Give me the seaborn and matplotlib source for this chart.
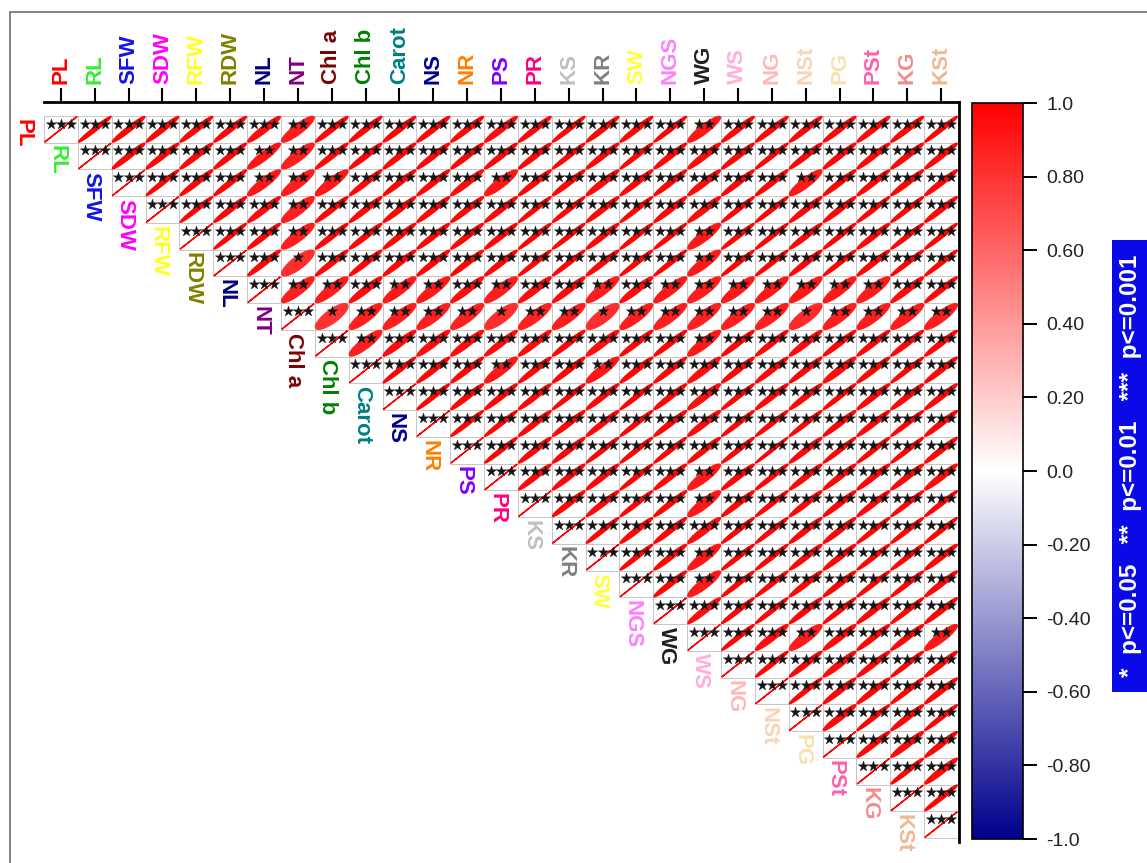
import numpy as np
import pandas as pd
import matplotlib
matplotlib.use("Agg")
import matplotlib.pyplot as plt
import seaborn as sns
from matplotlib.colors import LinearSegmentedColormap, ListedColormap, Normalize
from matplotlib.patches import Polygon, Rectangle
from matplotlib.cm import ScalarMappable

# ---- traits and their label colours ----
traits = ["PL", "RL", "SFW", "SDW", "RFW", "RDW", "NL", "NT", "Chl a", "Chl b",
          "Carot", "NS", "NR", "PS", "PR", "KS", "KR", "SW", "NGS", "WG",
          "WS", "NG", "NSt", "PG", "PSt", "KG", "KSt"]
trait_colors = ["#FF0000", "#33EE33", "#1414E6", "#FF00FF", "#FFFF22", "#808000",
                "#00007F", "#800080", "#800000", "#008000", "#008080", "#000090",
                "#FF8000", "#8000FF", "#FF0080", "#C0C0C0", "#808080", "#FFFF40",
                "#FF80FF", "#202020", "#FFB0D8", "#FFB8B8", "#F8D4B8", "#F8E0B0",
                "#FF60B0", "#F08C8C", "#F0B890"]

# ---- Pearson r, upper triangle, one list per row (columns to the right of the diagonal) ----
r_PL = [0.98, 0.97, 0.97, 0.97, 0.97, 0.95, 0.89, 0.97, 0.97, 0.97, 0.97, 0.97, 0.96,
        0.97, 0.98, 0.97, 0.97, 0.98, 0.91, 0.97, 0.97, 0.97, 0.97, 0.97, 0.97, 0.98]
r_RL = [0.97, 0.97, 0.97, 0.97, 0.92, 0.88, 0.97, 0.97, 0.97, 0.97, 0.97, 0.97, 0.97,
        0.98, 0.97, 0.98, 0.97, 0.96, 0.97, 0.98, 0.97, 0.97, 0.97, 0.97, 0.97]
r_SFW = [0.98, 0.97, 0.97, 0.91, 0.89, 0.90, 0.97, 0.97, 0.97, 0.96, 0.90, 0.97, 0.97,
         0.96, 0.97, 0.97, 0.96, 0.97, 0.97, 0.90, 0.97, 0.97, 0.97, 0.97]
r_SDW = [0.98, 0.97, 0.96, 0.88, 0.97, 0.97, 0.97, 0.97, 0.97, 0.97, 0.98, 0.98, 0.97,
         0.98, 0.97, 0.96, 0.98, 0.98, 0.97, 0.97, 0.98, 0.98, 0.97]
r_RFW = [0.98, 0.97, 0.88, 0.97, 0.97, 0.97, 0.97, 0.97, 0.97, 0.98, 0.98, 0.97, 0.98,
         0.98, 0.90, 0.98, 0.98, 0.97, 0.98, 0.97, 0.98, 0.98]
r_RDW = [0.97, 0.82, 0.97, 0.97, 0.97, 0.97, 0.97, 0.97, 0.98, 0.98, 0.97, 0.98, 0.98,
         0.90, 0.98, 0.98, 0.97, 0.98, 0.97, 0.98, 0.98]
r_NL = [0.88, 0.89, 0.95, 0.90, 0.90, 0.95, 0.88, 0.95, 0.96, 0.89, 0.95, 0.90, 0.88,
        0.90, 0.91, 0.90, 0.90, 0.89, 0.96, 0.97]
r_NT = [0.80, 0.87, 0.88, 0.88, 0.87, 0.82, 0.87, 0.88, 0.82, 0.88, 0.88, 0.87, 0.88,
        0.88, 0.83, 0.88, 0.88, 0.89, 0.88]
r_Chla = [0.88, 0.95, 0.95, 0.95, 0.96, 0.96, 0.97, 0.95, 0.97, 0.97, 0.90, 0.97, 0.97,
          0.96, 0.97, 0.97, 0.97, 0.97]
r_Chlb = [0.98, 0.97, 0.97, 0.91, 0.97, 0.97, 0.91, 0.97, 0.97, 0.95, 0.97, 0.97, 0.97,
          0.95, 0.97, 0.98, 0.97]
r_Carot = [0.98, 0.97, 0.97, 0.97, 0.98, 0.97, 0.98, 0.97, 0.95, 0.98, 0.97, 0.97, 0.98,
           0.97, 0.97, 0.97]
r_NS = [0.98, 0.98, 0.97, 0.97, 0.97, 0.98, 0.97, 0.96, 0.98, 0.98, 0.98, 0.97, 0.97,
        0.98, 0.97]
r_NR = [0.98, 0.97, 0.97, 0.98, 0.98, 0.98, 0.97, 0.98, 0.99, 0.97, 0.98, 0.98, 0.98, 0.97]
r_PS = [0.97, 0.97, 0.97, 0.98, 0.97, 0.90, 0.97, 0.98, 0.97, 0.97, 0.97, 0.97, 0.96]
r_PR = [0.97, 0.97, 0.98, 0.97, 0.90, 0.97, 0.98, 0.97, 0.97, 0.97, 0.98, 0.98]
r_KS = [0.98, 0.97, 0.97, 0.95, 0.98, 0.98, 0.97, 0.97, 0.98, 0.98, 0.98]
r_KR = [0.98, 0.97, 0.91, 0.98, 0.98, 0.97, 0.97, 0.98, 0.98, 0.97]
r_SW = [0.97, 0.90, 0.98, 0.98, 0.97, 0.97, 0.98, 0.98, 0.97]
r_NGS = [0.96, 0.98, 0.98, 0.97, 0.98, 0.97, 0.98, 0.97]
r_WG = [0.98, 0.95, 0.89, 0.96, 0.97, 0.97, 0.91]
r_WS = [0.98, 0.97, 0.96, 0.97, 0.98, 0.97]
r_NG = [0.98, 0.97, 0.97, 0.98, 0.97]
r_NSt = [0.96, 0.98, 0.97, 0.98]
r_PG = [0.97, 0.96, 0.97]
r_PSt = [0.98, 0.96]
r_KG = [0.98]

corr_rows = [r_PL, r_RL, r_SFW, r_SDW, r_RFW, r_RDW, r_NL, r_NT, r_Chla, r_Chlb,
             r_Carot, r_NS, r_NR, r_PS, r_PR, r_KS, r_KR, r_SW, r_NGS, r_WG,
             r_WS, r_NG, r_NSt, r_PG, r_PSt, r_KG]

# ---- significance: every pair is p<=0.001 except these (row, column) cells ----
p01_cells = [(0, 7), (0, 19), (1, 6), (1, 7), (2, 6), (2, 7), (2, 8), (2, 13), (2, 22),
             (3, 7), (4, 7), (4, 19), (5, 19), (6, 7), (6, 8), (6, 10), (6, 11), (6, 13),
             (6, 16), (6, 18), (6, 19), (6, 20), (6, 21), (6, 22), (6, 23), (6, 24),
             (7, 9), (7, 10), (7, 11), (7, 12), (7, 14), (7, 15), (7, 17), (7, 18),
             (7, 19), (7, 20), (7, 21), (7, 23), (7, 24), (7, 25), (7, 26), (8, 9),
             (8, 19), (9, 13), (9, 16), (13, 19), (14, 19), (16, 19), (17, 19),
             (19, 22), (19, 26)]
p05_cells = [(5, 7), (7, 8), (7, 13), (7, 16), (7, 22)]

cbar_ticks = [1.0, 0.8, 0.6, 0.4, 0.2, 0.0, -0.2, -0.4, -0.6, -0.8, -1.0]
cbar_labels = ["1.0", "0.80", "0.60", "0.40", "0.20", "0.0",
               "-0.20", "-0.40", "-0.60", "-0.80", "-1.0"]
sig_note = "*  p<=0.05   **  p<=0.01   ***  p<=0.001"

# ---- assemble the full symmetric matrix ----
n = len(traits)
corr = np.eye(n)
for i, row in enumerate(corr_rows):
    for k, v in enumerate(row):
        j = i + 1 + k
        corr[i, j] = corr[j, i] = v
stars = np.full((n, n), 3, dtype=int)
for (i, j) in p01_cells:
    stars[i, j] = 2
for (i, j) in p05_cells:
    stars[i, j] = 1

# ---- style ----
sns.set_theme(style="white")
plt.rcParams["font.family"] = ["Liberation Sans", "DejaVu Sans"]

cmap = LinearSegmentedColormap.from_list(
    "blue_white_red", [(0.0, "#00008C"), (0.5, "#FFFFFF"), (1.0, "#FF0000")])
norm = Normalize(vmin=-1, vmax=1)

W, H = 1147, 863
fig = plt.figure(figsize=(W / 100, H / 100), dpi=100)


def fx(px):
    return px / W


def fy(py):
    return 1 - py / H


# outer frame
fig.patches.append(Rectangle((fx(10), fy(880)), fx(1160) - fx(10), fy(12) - fy(880),
                             transform=fig.transFigure, fill=False,
                             edgecolor="#6E6E6E", lw=1.2, clip_on=False))

ax = fig.add_axes([fx(44), fy(842), fx(959) - fx(44), fy(102) - fy(842)])

df = pd.DataFrame(corr, index=traits, columns=traits)
lower = np.tril(np.ones_like(corr, dtype=bool), k=-1)
sns.heatmap(df, mask=lower, cmap=ListedColormap(["white"]), cbar=False,
            linewidths=0.6, linecolor="#C8C8C8", ax=ax,
            xticklabels=True, yticklabels=False)
# keep cell borders only on the upper triangle
mesh = ax.collections[0]
edge = np.where(lower.ravel()[:, None], [0, 0, 0, 0], [0.78, 0.78, 0.78, 1.0])
mesh.set_edgecolor(edge)

# ellipses: shape of the 2x2 correlation matrix, drawn inside each cell
t = np.linspace(0, 2 * np.pi, 120)
scale = 0.96
star_x, star_y = [], []
offsets = {1: [0.0], 2: [-0.15, 0.15], 3: [-0.30, 0.0, 0.30]}
for i in range(n):
    for j in range(i, n):
        r = corr[i, j]
        d = np.arccos(np.clip(r, -1, 1))
        ex = np.cos(t + d / 2)
        ey = np.cos(t - d / 2)
        pts = np.column_stack([j + 0.5 + 0.5 * scale * ex, i + 0.5 - 0.5 * scale * ey])
        col = cmap(norm(r))
        ax.add_patch(Polygon(pts, closed=True, facecolor=col, edgecolor=col,
                             lw=1.0, zorder=3))
        for dx in offsets[stars[i, j]]:
            star_x.append(j + 0.5 + dx)
            star_y.append(i + 0.29)

sns.scatterplot(x=star_x, y=star_y, marker="*", s=60, color="#151515",
                edgecolor="#151515", linewidth=0.3, ax=ax, zorder=5, legend=False)

ax.set_xlim(0, n + 0.03)
ax.set_ylim(n + 0.15, -0.52)
ax.set_xlabel("")
ax.set_ylabel("")

# top axis with coloured trait names
ax.xaxis.tick_top()
ax.set_xticks(np.arange(n) + 0.5)
ax.set_xticklabels(traits, rotation=90, fontsize=16, fontweight="bold")
for lab, c in zip(ax.get_xticklabels(), trait_colors):
    lab.set_color(c)
ax.tick_params(axis="x", which="both", top=True, bottom=False, direction="out",
               length=10, width=1.5, color="black", pad=3,
               labeltop=True, labelbottom=False)
ax.set_yticks([])
for side in ["left", "bottom"]:
    ax.spines[side].set_visible(False)
for side in ["top", "right"]:
    ax.spines[side].set_visible(True)
    ax.spines[side].set_color("black")
    ax.spines[side].set_linewidth(2)

# diagonal trait names
for i, (name, c) in enumerate(zip(traits, trait_colors)):
    ax.text(i - 0.62, i + 0.1, name, rotation=-90, ha="center", va="top",
            fontsize=16, fontweight="bold", color=c, clip_on=False)

# colour scale
cax = fig.add_axes([fx(972), fy(839), fx(1023) - fx(972), fy(103) - fy(839)])
cb = fig.colorbar(ScalarMappable(norm=norm, cmap=cmap), cax=cax)
cb.set_ticks(cbar_ticks)
cb.set_ticklabels(cbar_labels)
cb.outline.set_edgecolor("black")
cb.outline.set_linewidth(1.2)
cax.tick_params(length=10, width=1.4, pad=7, labelsize=14, color="black",
                labelcolor="#222222")

# significance key
fig.patches.append(Rectangle((fx(1112), fy(692)), fx(1150) - fx(1112), fy(240) - fy(692),
                             transform=fig.transFigure, facecolor="#0A0AE8",
                             edgecolor="none", clip_on=False))
fig.text(fx(1131), fy(466), sig_note, rotation=90, ha="center", va="center",
         color="white", fontsize=17.5, fontweight="bold")

fig.savefig("out.png", dpi=100, facecolor="white")
